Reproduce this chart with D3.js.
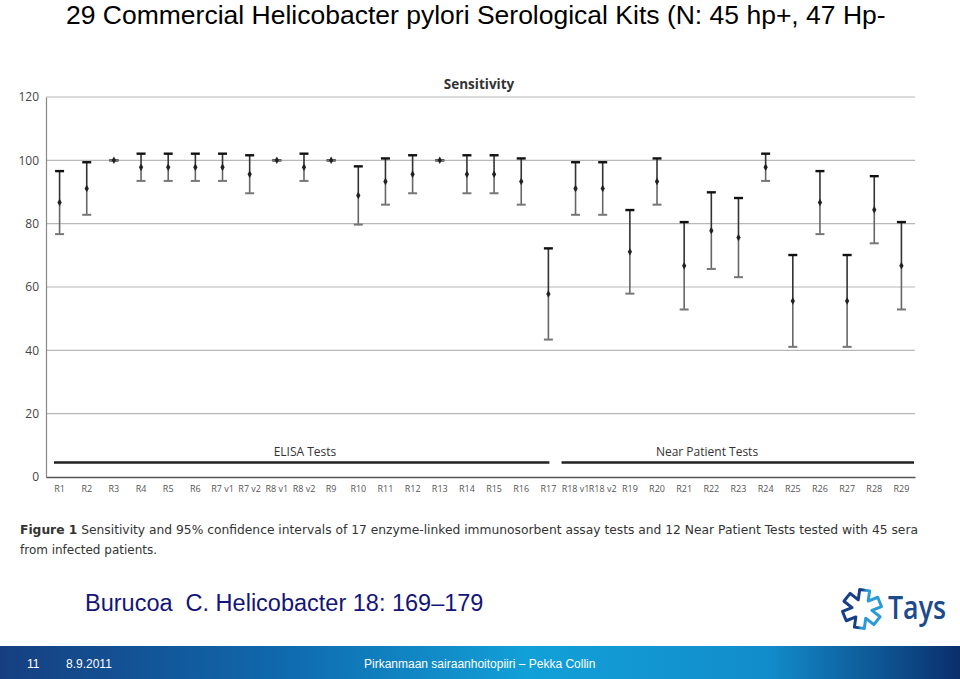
<!DOCTYPE html>
<html><head><meta charset="utf-8">
<script src="https://cdn.jsdelivr.net/npm/d3@7/dist/d3.min.js"></script>
<style>body{margin:0;background:#fff}svg{display:block}</style>
</head><body>
<script>
const categories = ["R1","R2","R3","R4","R5","R6","R7 v1","R7 v2","R8 v1","R8 v2","R9","R10","R11","R12","R13","R14","R15","R16","R17","R18 v1","R18 v2","R19","R20","R21","R22","R23","R24","R25","R26","R27","R28","R29"];
const sensitivity = [86.7,91.1,100,97.8,97.8,97.8,97.8,95.6,100,97.8,100,88.9,93.3,95.6,100,95.6,95.6,93.3,57.8,91.1,91.1,71.1,93.3,66.7,77.8,75.6,97.8,55.6,86.7,55.6,84.4,66.7];
const ciLow  = [76.7,82.8,100,93.5,93.5,93.5,93.5,89.6,100,93.5,100,79.7,86.0,89.6,100,89.6,89.6,86.0,43.4,82.8,82.8,57.9,86.0,52.9,65.7,63.1,93.5,41.1,76.7,41.1,73.8,52.9];
const ciHigh = [96.6,99.4,100,102.1,102.1,102.1,102.1,101.6,100,102.1,100,98.1,100.6,101.6,100,101.6,101.6,100.6,72.2,99.4,99.4,84.3,100.6,80.5,89.9,88.1,102.1,70.1,96.6,70.1,95.0,80.5];
const yTicks = [0,20,40,60,80,100,120];
const groups = [{label:"ELISA Tests", from:"R1", to:"R17"},{label:"Near Patient Tests", from:"R18 v1", to:"R29"}];

const W=960,H=679;
const svg=d3.select("body").append("svg").attr("width",W).attr("height",H);

// slide title
svg.append("text").attr("x",66).attr("y",24).attr("font-family","Liberation Sans, Arial, sans-serif")
  .attr("font-size",26.5).attr("fill","#000").text("29 Commercial Helicobacter pylori Serological Kits (N: 45 hp+, 47 Hp-");

const x=d3.scaleBand().domain(categories).range([46,915]);
const y=d3.scaleLinear().domain([0,120]).range([477,97]);
const cx=c=>x(c)+x.bandwidth()/2;
const font="Open Sans, Lato, sans-serif";

// gridlines
svg.append("g").selectAll("line").data(yTicks.filter(t=>t>0)).join("line")
  .attr("x1",46).attr("x2",915).attr("y1",d=>y(d)).attr("y2",d=>y(d))
  .attr("stroke","#b8b8b8").attr("stroke-width",1.2);

// y axis
const ya=svg.append("g").attr("transform","translate(46,0)").call(d3.axisLeft(y).tickValues(yTicks).tickSize(0).tickPadding(7));
ya.select(".domain").attr("stroke","#888").attr("stroke-width",1.2);
ya.selectAll("text").attr("font-family",font).attr("font-size",12).attr("fill","#444");

// x axis
const xa=svg.append("g").attr("transform","translate(0,477)").call(d3.axisBottom(x).tickSize(0).tickPadding(9));
xa.select(".domain").attr("stroke","#555").attr("stroke-width",1.5);
xa.selectAll("text").attr("font-family",font).attr("font-size",9).attr("fill","#555");

// chart title
svg.append("text").attr("x",479).attr("y",89).attr("text-anchor","middle").attr("font-family",font)
  .attr("font-weight","bold").attr("font-size",13.5).attr("fill","#333").text("Sensitivity");

// group brackets
groups.forEach((g,i)=>{
  const x1 = i===0 ? 54 : x(g.from)+x.bandwidth()/2-14;
  const x2 = i===0 ? x(g.to)+x.bandwidth()/2+1 : 914;
  svg.append("line").attr("x1",x1).attr("x2",x2).attr("y1",462.5).attr("y2",462.5).attr("stroke","#222").attr("stroke-width",2.5);
  svg.append("text").attr("x",i===0?305:707).attr("y",456).attr("text-anchor","middle").attr("font-family",font)
    .attr("font-size",12).attr("fill","#333").text(g.label);
});

// error bars
const eb=svg.append("g").selectAll("g").data(categories).join("g");
eb.append("line").attr("x1",cx).attr("x2",cx).attr("y1",(d,i)=>y(ciHigh[i])).attr("y2",(d,i)=>y(sensitivity[i]))
  .attr("stroke","#333").attr("stroke-width",1.6);
eb.append("line").attr("x1",cx).attr("x2",cx).attr("y1",(d,i)=>y(sensitivity[i])).attr("y2",(d,i)=>y(ciLow[i]))
  .attr("stroke","#666").attr("stroke-width",1.6);
eb.append("line").attr("x1",d=>cx(d)-4.5).attr("x2",d=>cx(d)+4.5).attr("y1",(d,i)=>y(ciHigh[i])).attr("y2",(d,i)=>y(ciHigh[i]))
  .attr("stroke","#111").attr("stroke-width",2.4);
eb.append("line").attr("x1",d=>cx(d)-4.5).attr("x2",d=>cx(d)+4.5).attr("y1",(d,i)=>y(ciLow[i])).attr("y2",(d,i)=>y(ciLow[i]))
  .attr("stroke","#777").attr("stroke-width",2);
eb.append("path").attr("d",d3.symbol(d3.symbolDiamond,16))
  .attr("transform",(d,i)=>`translate(${cx(d)},${y(sensitivity[i])})`).attr("fill","#222");

// caption
const cap=svg.append("text").attr("x",20).attr("y",534).attr("font-family","DejaVu Sans, Verdana, sans-serif")
  .attr("font-size",12).attr("fill","#333").attr("textLength",898).attr("lengthAdjust","spacingAndGlyphs");
cap.append("tspan").attr("font-weight","bold").text("Figure 1");
cap.append("tspan").text(" Sensitivity and 95% confidence intervals of 17 enzyme-linked immunosorbent assay tests and 12 Near Patient Tests tested with 45 sera");
svg.append("text").attr("x",20).attr("y",554).attr("font-family","DejaVu Sans, Verdana, sans-serif")
  .attr("font-size",12).attr("fill","#333").attr("textLength",137).attr("lengthAdjust","spacingAndGlyphs").text("from infected patients.");

// citation
svg.append("text").attr("x",85).attr("y",611).attr("font-family","Liberation Sans, Arial, sans-serif")
  .attr("font-size",23.5).attr("fill","#141478").attr("xml:space","preserve").style("white-space","pre")
  .text("Burucoa  C. Helicobacter 18: 169\u2013179");

// footer bar
const defs=svg.append("defs");
const grad=defs.append("linearGradient").attr("id","fg").attr("x1","0").attr("x2","1").attr("y1","0").attr("y2","0");
[["0","#163f80"],["0.3","#0f6aae"],["0.55","#12a0d8"],["0.8","#128ccb"],["1","#0b2e6c"]].forEach(s=>grad.append("stop").attr("offset",s[0]).attr("stop-color",s[1]));
svg.append("rect").attr("x",0).attr("y",646).attr("width",W).attr("height",33).attr("fill","url(#fg)");
[["11",27],["8.9.2011",66],["Pirkanmaan sairaanhoitopiiri \u2013 Pekka Collin",364]].forEach(t=>
  svg.append("text").attr("x",t[1]).attr("y",667.5).attr("font-family","Liberation Sans, Arial, sans-serif")
   .attr("font-size",12).attr("fill","#fff").text(t[0]));

// Tays logo
const lg=defs.append("linearGradient").attr("id","lg").attr("x1","0").attr("x2","1");
lg.append("stop").attr("offset","0.45").attr("stop-color","#173f86");
lg.append("stop").attr("offset","0.55").attr("stop-color","#2a9bd6");
const L=19,w=5,pts=[];
for(let k=0;k<6;k++){
  const a=(k*60-90)*Math.PI/180, d=[Math.cos(a),Math.sin(a)], p=[-Math.sin(a),Math.cos(a)];
  const b=a+Math.PI/6;
  pts.push([L*d[0]-w*p[0], L*d[1]-w*p[1]]);
  pts.push([L*d[0]+w*p[0], L*d[1]+w*p[1]]);
  pts.push([2*w*Math.cos(b), 2*w*Math.sin(b)]);
}
svg.append("path").attr("d",d3.line().curve(d3.curveLinearClosed)(pts)).attr("transform","translate(862,609) rotate(8)")
  .attr("fill","none").attr("stroke","url(#lg)").attr("stroke-width",3).attr("stroke-linejoin","round");
svg.append("text").attr("x",888).attr("y",619).attr("font-family","Open Sans, sans-serif").attr("font-weight",600)
  .attr("font-size",32).attr("fill","#1d4a8c").attr("textLength",58).attr("lengthAdjust","spacingAndGlyphs").text("Tays");
</script>
</body></html>
